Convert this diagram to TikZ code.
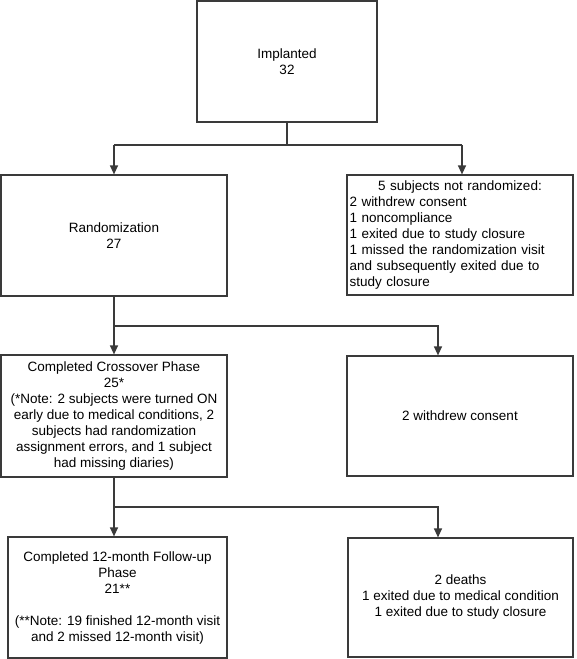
\documentclass[tikz,border=0pt]{standalone}
\usepackage{fontspec}
\setmainfont{Liberation Sans}
\usetikzlibrary{arrows.meta}
\definecolor{linec}{HTML}{3A3A3A}
\begin{document}
\begin{tikzpicture}[x=1pt,y=-1pt,
  box/.style={draw=linec, line width=1.2pt, rectangle, inner sep=0pt, align=center,
    font=\fontsize{13.5}{16}\selectfont, text=black},
  conn/.style={draw=linec, line width=1.2pt},
  arr/.style={conn, -{Triangle[length=9pt,width=8pt]}}]
\useasboundingbox[fill=white] (0,0) rectangle (576,659);

\node[box, minimum width=180pt, minimum height=121pt] (impl) at (287,61.5) {Implanted\\32};
\node[box, minimum width=226pt, minimum height=121pt] (rand) at (114,235.5) {Randomization\\27};
\node[box, minimum width=226pt, minimum height=120pt, align=left, text width=221pt, inner xsep=2.5pt] (notrand) at (460,235)
  {\makebox[221pt][c]{5 subjects not randomized:}\\2 withdrew consent\\1 noncompliance\\1 exited due to study closure\\1 missed the randomization visit\\and subsequently exited due to\\study closure};
\node[box, minimum width=226pt, minimum height=122pt] (cross) at (114,416)
  {Completed Crossover Phase\\25*\\(*Note: 2 subjects were turned ON\\early due to medical conditions, 2\\subjects had randomization\\assignment errors, and 1 subject\\had missing diaries)};
\node[box, minimum width=226pt, minimum height=120pt] (withdrew) at (460,416) {2 withdrew consent};
\node[box, minimum width=219pt, minimum height=121pt] (follow) at (117.5,597.5)
  {Completed 12-month Follow-up\\Phase\\21**\\[16pt](**Note: 19 finished 12-month visit\\and 2 missed 12-month visit)};
\node[box, minimum width=225pt, minimum height=119pt] (deaths) at (460.5,597.5)
  {2 deaths\\1 exited due to medical condition\\1 exited due to study closure};

\coordinate (j1) at (287,145);
\coordinate (j1l) at (114,145);
\coordinate (j1r) at (462,145);
\coordinate (j2) at (114,326);
\coordinate (j2r) at (438,326);
\coordinate (j3) at (114,507);
\coordinate (j3r) at (438,507);

\draw[conn] (impl.south) -- (j1);
\draw[conn] (j1l) -- (j1r);
\draw[arr] (j1l) -- (j1l |- rand.north);
\draw[arr] (j1r) -- (j1r |- notrand.north);

\draw[arr] (rand.south) -- (cross.north);
\draw[arr] (j2) -- (j2r) -- (j2r |- withdrew.north);

\draw[arr] (cross.south) -- (cross.south |- follow.north);
\draw[arr] (j3) -- (j3r) -- (j3r |- deaths.north);
\end{tikzpicture}
\end{document}
